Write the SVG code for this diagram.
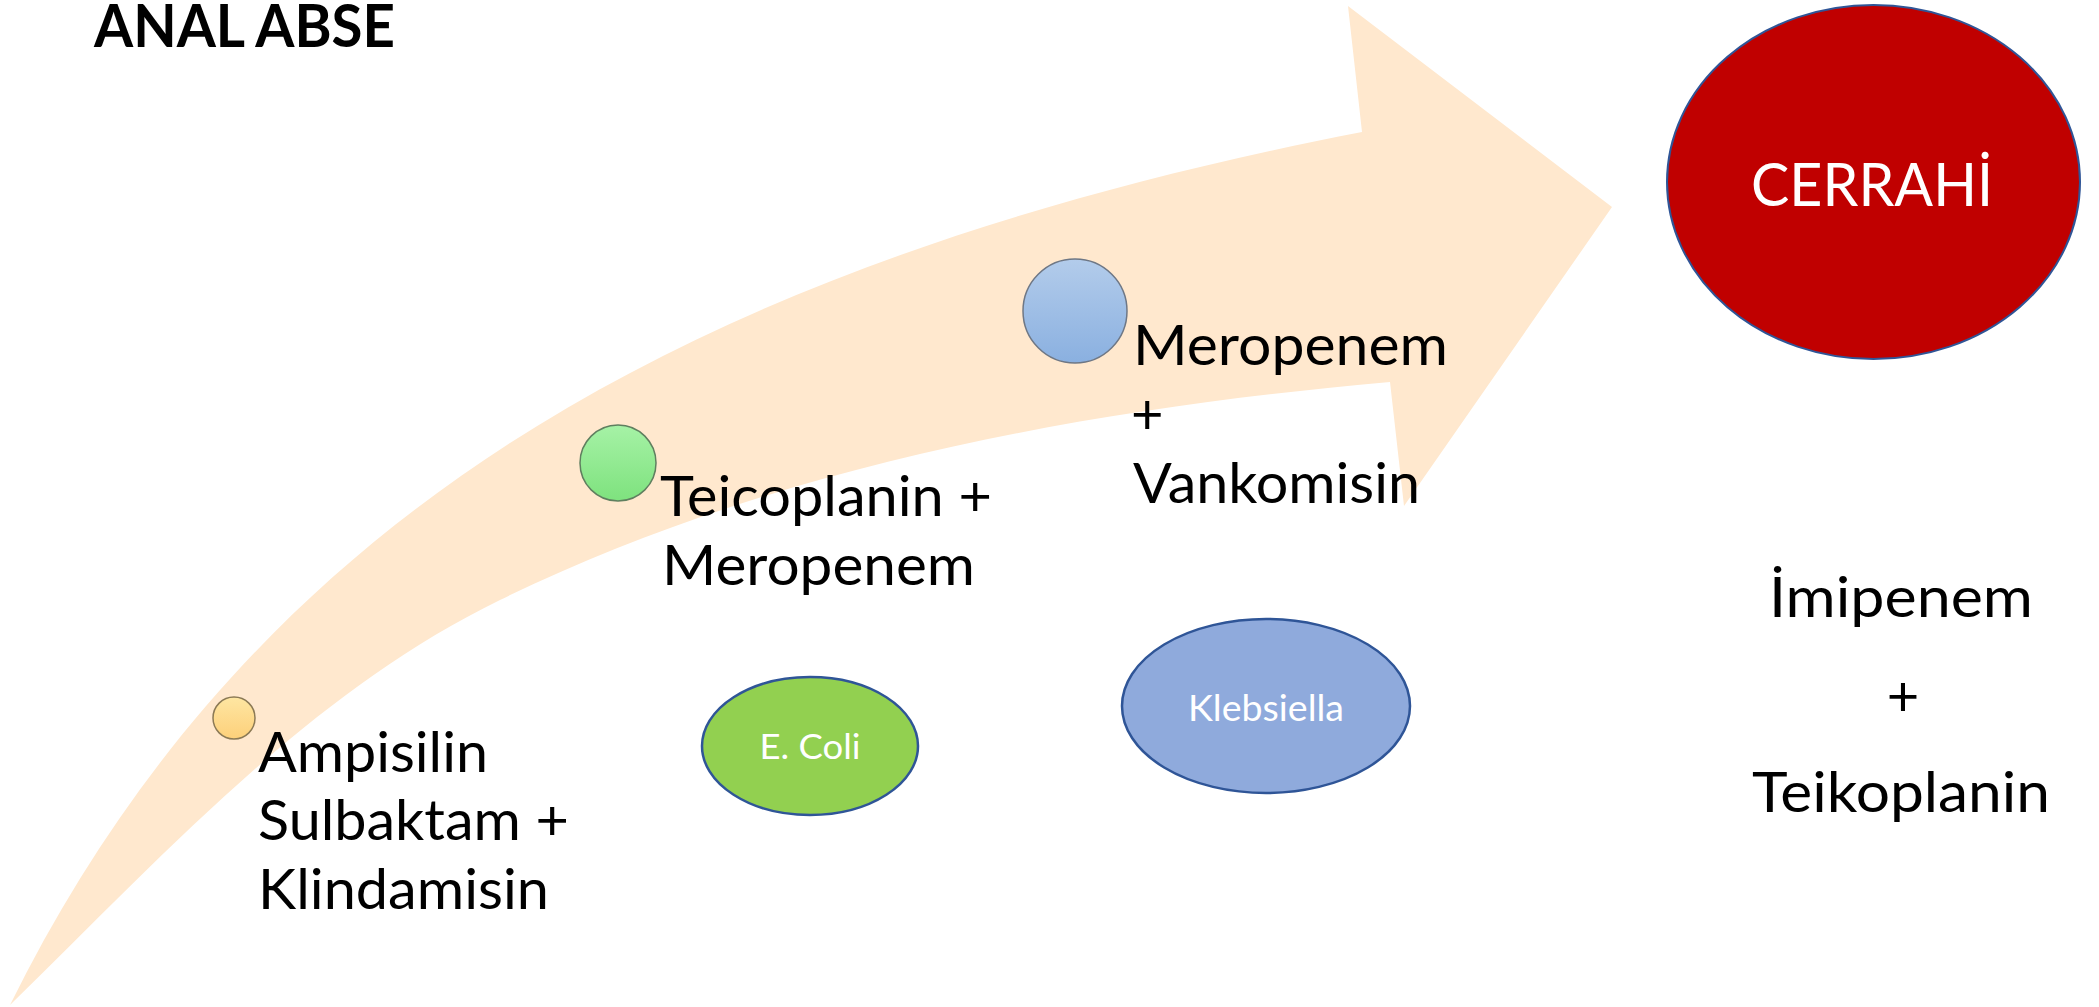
<svg xmlns="http://www.w3.org/2000/svg" width="2099" height="1007" viewBox="0 0 2099 1007">
<style>
.t{font-family:Lato,"Open Sans","Liberation Sans",sans-serif;font-size:56px;fill:#000}
.w{font-family:Lato,"Open Sans","Liberation Sans",sans-serif;fill:#fff}
.b{font-family:Lato,"Open Sans","Liberation Sans",sans-serif;font-weight:bold;font-size:59px;fill:#000}
.ell{stroke:#2F5597;stroke-width:2.5}
.dot{stroke-width:1.5}
</style>
<defs>
<linearGradient id="gOr" x1="0" y1="0" x2="0" y2="1"><stop offset="0" stop-color="#FEE6A2"/><stop offset="1" stop-color="#FDD07A"/></linearGradient>
<linearGradient id="gGr" x1="0" y1="0" x2="0" y2="1"><stop offset="0" stop-color="#A6F2A6"/><stop offset="1" stop-color="#7EE27E"/></linearGradient>
<linearGradient id="gBl" x1="0" y1="0" x2="0" y2="1"><stop offset="0" stop-color="#B3CCEB"/><stop offset="1" stop-color="#8AB0E0"/></linearGradient>
</defs>
<rect width="2099" height="1007" fill="#fff"/>

<g id="title">
<text class="b" x="94" y="47" textLength="301" lengthAdjust="spacingAndGlyphs">ANAL ABSE</text>
</g>

<g id="arrow">
<path d="M10,1005 C250,520 680,265 1362,132 L1348,6 L1612,207 L1404,506 L1390,382 C1086,409 774,466 500,600 C309,693 162,857 10,1005 Z" fill="#FFE8CE"/>
</g>

<g id="step1">
<circle class="dot" cx="234" cy="718" r="21" fill="url(#gOr)" stroke="#8C7A55"/>
<text class="t" x="258" y="772" textLength="230" lengthAdjust="spacingAndGlyphs">Ampisilin</text>
<text class="t" x="258" y="840" textLength="311" lengthAdjust="spacingAndGlyphs">Sulbaktam +</text>
<text class="t" x="258" y="909" textLength="291" lengthAdjust="spacingAndGlyphs">Klindamisin</text>
</g>

<g id="step2">
<circle class="dot" cx="618" cy="463" r="38" fill="url(#gGr)" stroke="#5F7F5F"/>
<text class="t" x="660" y="516" textLength="332" lengthAdjust="spacingAndGlyphs">Teicoplanin +</text>
<text class="t" x="662" y="585" textLength="313" lengthAdjust="spacingAndGlyphs">Meropenem</text>
</g>

<g id="step3">
<circle class="dot" cx="1075" cy="311" r="52" fill="url(#gBl)" stroke="#6E7785"/>
<text class="t" x="1133" y="365" textLength="315" lengthAdjust="spacingAndGlyphs">Meropenem</text>
<text class="t" x="1131" y="434">+</text>
<text class="t" x="1133" y="503" textLength="287" lengthAdjust="spacingAndGlyphs">Vankomisin</text>
</g>

<g id="ecoli">
<ellipse class="ell" cx="810" cy="746" rx="108" ry="69" fill="#92D050"/>
<text class="w" x="810" y="759" font-size="35" text-anchor="middle" textLength="101" lengthAdjust="spacingAndGlyphs">E. Coli</text>
</g>

<g id="klebsiella">
<ellipse class="ell" cx="1266" cy="706" rx="144" ry="87" fill="#8FAADC"/>
<text class="w" x="1266" y="721" font-size="36" text-anchor="middle" textLength="156" lengthAdjust="spacingAndGlyphs">Klebsiella</text>
</g>

<g id="cerrahi">
<ellipse cx="1873.5" cy="182" rx="206.5" ry="177" fill="#C00000" stroke="#2F5597" stroke-width="2"/>
<text class="w" x="1872" y="206" font-size="60" text-anchor="middle" textLength="242" lengthAdjust="spacingAndGlyphs">CERRAHİ</text>
</g>

<g id="final">
<text class="t" x="1901" y="617" text-anchor="middle" textLength="264" lengthAdjust="spacingAndGlyphs">İmipenem</text>
<text class="t" x="1903" y="716" text-anchor="middle">+</text>
<text class="t" x="1901" y="812" text-anchor="middle" textLength="298" lengthAdjust="spacingAndGlyphs">Teikoplanin</text>
</g>
</svg>
